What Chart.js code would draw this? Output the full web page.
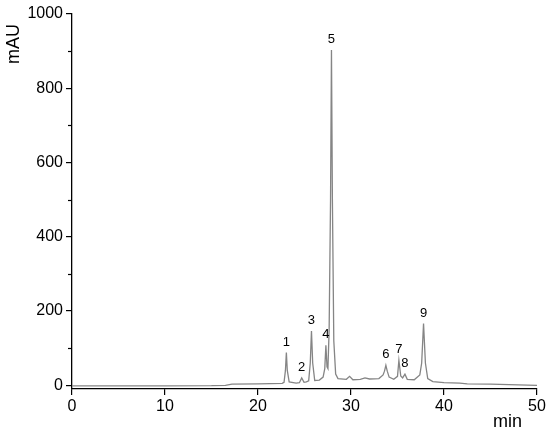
<!DOCTYPE html>
<html>
<head>
<meta charset="utf-8">
<script src="https://cdn.jsdelivr.net/npm/chart.js@4"></script>
<style>
  html, body { margin: 0; padding: 0; background: #fff; }
  #wrap { width: 550px; height: 434px; }
</style>
</head>
<body>
<div id="wrap"><canvas id="c" width="550" height="434"></canvas></div>
<script>
// Retention time (min) and absorbance (mAU)
const times = [0, 5, 10, 15, 16.5, 17.2, 20, 22.6,
  22.8, 22.95, 23.05, 23.15, 23.35, 24.1,
  24.45, 24.7, 24.95, 25.2,
  25.45, 25.62, 25.75, 25.88, 26.1, 26.6, 27.0,
  27.18, 27.3, 27.42, 27.52,
  27.65, 27.8, 27.9, 28.0, 28.15, 28.35, 28.6,
  29.5, 29.85, 30.2, 31.0, 31.5, 32.0, 33.0, 33.45,
  33.6, 33.75, 33.9, 34.1, 34.6, 35.0,
  35.15, 35.35, 35.55, 35.8, 36.05, 36.8, 37.4,
  37.6, 37.8, 38.0, 38.25, 38.8, 40, 41.7, 42.5, 45, 48, 50];
const signal = [-1.5, -1.5, -1.5, -1, 0, 3, 4, 5,
  8, 40, 88, 40, 9, 6,
  7, 20, 8, 9,
  12, 60, 146, 60, 13, 14, 22,
  45, 108, 50, 45,
  150, 500, 903, 500, 120, 30, 18,
  16, 24, 15, 16, 20, 17, 18, 28,
  38, 54, 38, 22, 16, 24,
  67, 25, 20, 30, 16, 15, 28,
  60, 166, 60, 18, 10, 7, 6, 4, 3, 1, 0];

// Peak annotations
const peakLabels = ["1", "2", "3", "4", "5", "6", "7", "8", "9"];
const peakTimes = [23.05, 24.7, 25.75, 27.3, 27.9, 33.75, 35.15, 35.8, 37.8];
const peakHeights = [88, 20, 146, 108, 903, 54, 67, 30, 166];

// Axis ticks
const xTicks = [0, 10, 20, 30, 40, 50];
const yTicks = [0, 200, 400, 600, 800, 1000];
const yMinorTicks = [100, 300, 500, 700, 900];

const FONT = "'Liberation Sans', Arial, sans-serif";

const points = times.map((t, i) => ({ x: t, y: signal[i] }));

const bgPlugin = {
  id: 'bg',
  beforeDraw(chart) {
    const ctx = chart.ctx;
    ctx.save();
    ctx.fillStyle = '#fff';
    ctx.fillRect(0, 0, chart.width, chart.height);
    ctx.restore();
  }
};

const extrasPlugin = {
  id: 'extras',
  afterDraw(chart) {
    const ctx = chart.ctx;
    const xs = chart.scales.x, ys = chart.scales.y;
    ctx.save();
    // minor y ticks
    ctx.strokeStyle = '#000';
    ctx.lineWidth = 1.2;
    yMinorTicks.forEach(v => {
      const py = Math.round(ys.getPixelForValue(v)) + 0.5;
      ctx.beginPath();
      ctx.moveTo(xs.left - 4, py);
      ctx.lineTo(xs.left, py);
      ctx.stroke();
    });
    // peak labels
    ctx.fillStyle = '#000';
    ctx.font = '13px ' + FONT;
    ctx.textAlign = 'center';
    ctx.textBaseline = 'bottom';
    peakLabels.forEach((lab, i) => {
      const px = xs.getPixelForValue(peakTimes[i]);
      const py = ys.getPixelForValue(peakHeights[i]);
      ctx.fillText(lab, px, py - 4);
    });
    ctx.restore();
  }
};

new Chart(document.getElementById('c'), {
  type: 'line',
  data: {
    datasets: [{
      data: points,
      borderColor: '#858585',
      borderWidth: 1.3,
      pointRadius: 0,
      tension: 0,
      fill: false
    }]
  },
  options: {
    responsive: false,
    animation: false,
    layout: { padding: { top: 14, right: 13, left: 0, bottom: 0 } },
    plugins: { legend: { display: false }, tooltip: { enabled: false } },
    scales: {
      x: {
        type: 'linear',
        min: 0, max: 50,
        afterBuildTicks(s) { s.ticks = xTicks.map(v => ({ value: v })); },
        afterFit(s) { s.height = 45; },
        grid: { drawOnChartArea: false, drawTicks: true, tickLength: 6, color: '#000', lineWidth: 1.2 },
        border: { color: '#000', width: 1.3 },
        ticks: { color: '#000', font: { size: 16, family: FONT }, padding: 2, maxRotation: 0, callback: v => String(v) },
        title: { display: true, text: 'min   ', align: 'end', color: '#000', font: { size: 18, family: FONT }, padding: { top: 0, bottom: 1 } }
      },
      y: {
        type: 'linear',
        min: -10, max: 1000,
        afterBuildTicks(s) { s.ticks = yTicks.map(v => ({ value: v })); },
        afterFit(s) { s.width = 72; },
        grid: { drawOnChartArea: false, drawTicks: true, tickLength: 6, color: '#000', lineWidth: 1.2 },
        border: { color: '#000', width: 1.3 },
        ticks: { color: '#000', font: { size: 16, family: FONT }, padding: 3, callback: v => String(v) },
        title: { display: true, text: 'mAU  ', align: 'end', color: '#000', font: { size: 18, family: FONT }, padding: { top: 3, bottom: 0 } }
      }
    }
  },
  plugins: [bgPlugin, extrasPlugin]
});
</script>
</body>
</html>
